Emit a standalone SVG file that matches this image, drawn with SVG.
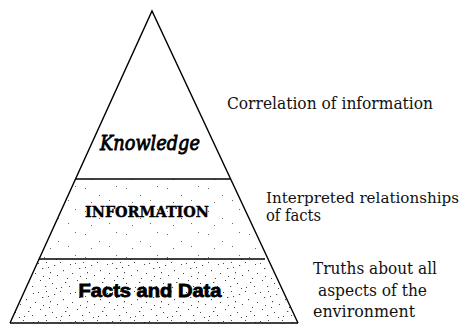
<svg xmlns="http://www.w3.org/2000/svg" width="464" height="325" viewBox="0 0 464 325">
<style>
.edge{fill:none;stroke:#000;stroke-width:1.4}
.note{font-family:"DejaVu Serif","Liberation Serif",serif;font-size:16px;fill:#111}
</style>
<defs>
<pattern id="dense" width="37" height="29" patternUnits="userSpaceOnUse">
<g fill="#444">
<rect x="1" y="2" width="1" height="1"/><rect x="5" y="7" width="1.3" height="1"/><rect x="9" y="1" width="1" height="1"/>
<rect x="13" y="11" width="1" height="1.3"/><rect x="17" y="4" width="1.2" height="1"/><rect x="20" y="14" width="1" height="1"/>
<rect x="3" y="19" width="1" height="1"/><rect x="8" y="25" width="1.2" height="1"/><rect x="11" y="6" width="1" height="1"/>
<rect x="15" y="22" width="1" height="1"/><rect x="26" y="9" width="1" height="1.2"/><rect x="30" y="17" width="1" height="1"/>
<rect x="33" y="3" width="1" height="1"/><rect x="24" y="26" width="1" height="1"/><rect x="28" y="21" width="1.3" height="1"/>
<rect x="35" y="12" width="1" height="1"/><rect x="19" y="27" width="1" height="1"/><rect x="6" y="15" width="1" height="1"/>
<rect x="23" y="1" width="1" height="1"/><rect x="32" y="25" width="1" height="1"/><rect x="12" y="17" width="1" height="1"/>
</g>
</pattern>
<pattern id="sparse" width="41" height="23" patternUnits="userSpaceOnUse">
<g fill="#666">
<rect x="3" y="4" width="1" height="1"/><rect x="17" y="11" width="1" height="1"/><rect x="34" y="2" width="1" height="1"/>
<rect x="9" y="18" width="1" height="1"/><rect x="27" y="16" width="1" height="1"/>
</g>
</pattern>
</defs>
<g id="layer-facts">
<polygon points="39,259 265,259 298,323 10,323" fill="url(#dense)"/>
<text x="150" y="297" text-anchor="middle" font-family="'Liberation Sans',Arial,sans-serif" font-weight="bold" font-size="18" stroke="#000" stroke-width="0.8" textLength="143" lengthAdjust="spacingAndGlyphs">Facts and Data</text>
</g>
<g id="layer-information">
<polygon points="75,179 230,179 265,259 39,259" fill="url(#sparse)"/>
<text x="147" y="217" text-anchor="middle" font-family="'DejaVu Serif','Liberation Serif',serif" font-weight="bold" font-size="15" stroke="#000" stroke-width="0.4" textLength="124" lengthAdjust="spacingAndGlyphs">INFORMATION</text>
</g>
<g id="layer-knowledge">
<text x="150" y="150" text-anchor="middle" font-family="'DejaVu Serif',serif" font-style="italic" font-size="21" stroke="#000" stroke-width="0.9" textLength="100" lengthAdjust="spacingAndGlyphs">Knowledge</text>
</g>
<g id="connectors">
<polyline class="edge" points="10,323 152,11 298,323"/>
<line class="edge" x1="10" y1="323" x2="298" y2="323"/>
<line class="edge" x1="75" y1="179" x2="230" y2="179"/>
<line class="edge" x1="39" y1="259" x2="265" y2="259"/>
</g>
<g id="labels">
<text class="note" x="227" y="109" textLength="206" lengthAdjust="spacingAndGlyphs">Correlation of information</text>
<text class="note" x="266" y="203" style="font-size:14px" textLength="193" lengthAdjust="spacingAndGlyphs">Interpreted relationships</text>
<text class="note" x="266" y="221" textLength="55" lengthAdjust="spacingAndGlyphs">of facts</text>
<text class="note" x="313" y="274" textLength="124" lengthAdjust="spacingAndGlyphs">Truths about all</text>
<text class="note" x="318" y="296" textLength="109" lengthAdjust="spacingAndGlyphs">aspects of the</text>
<text class="note" x="313" y="317" textLength="102" lengthAdjust="spacingAndGlyphs">environment</text>
</g>
</svg>
